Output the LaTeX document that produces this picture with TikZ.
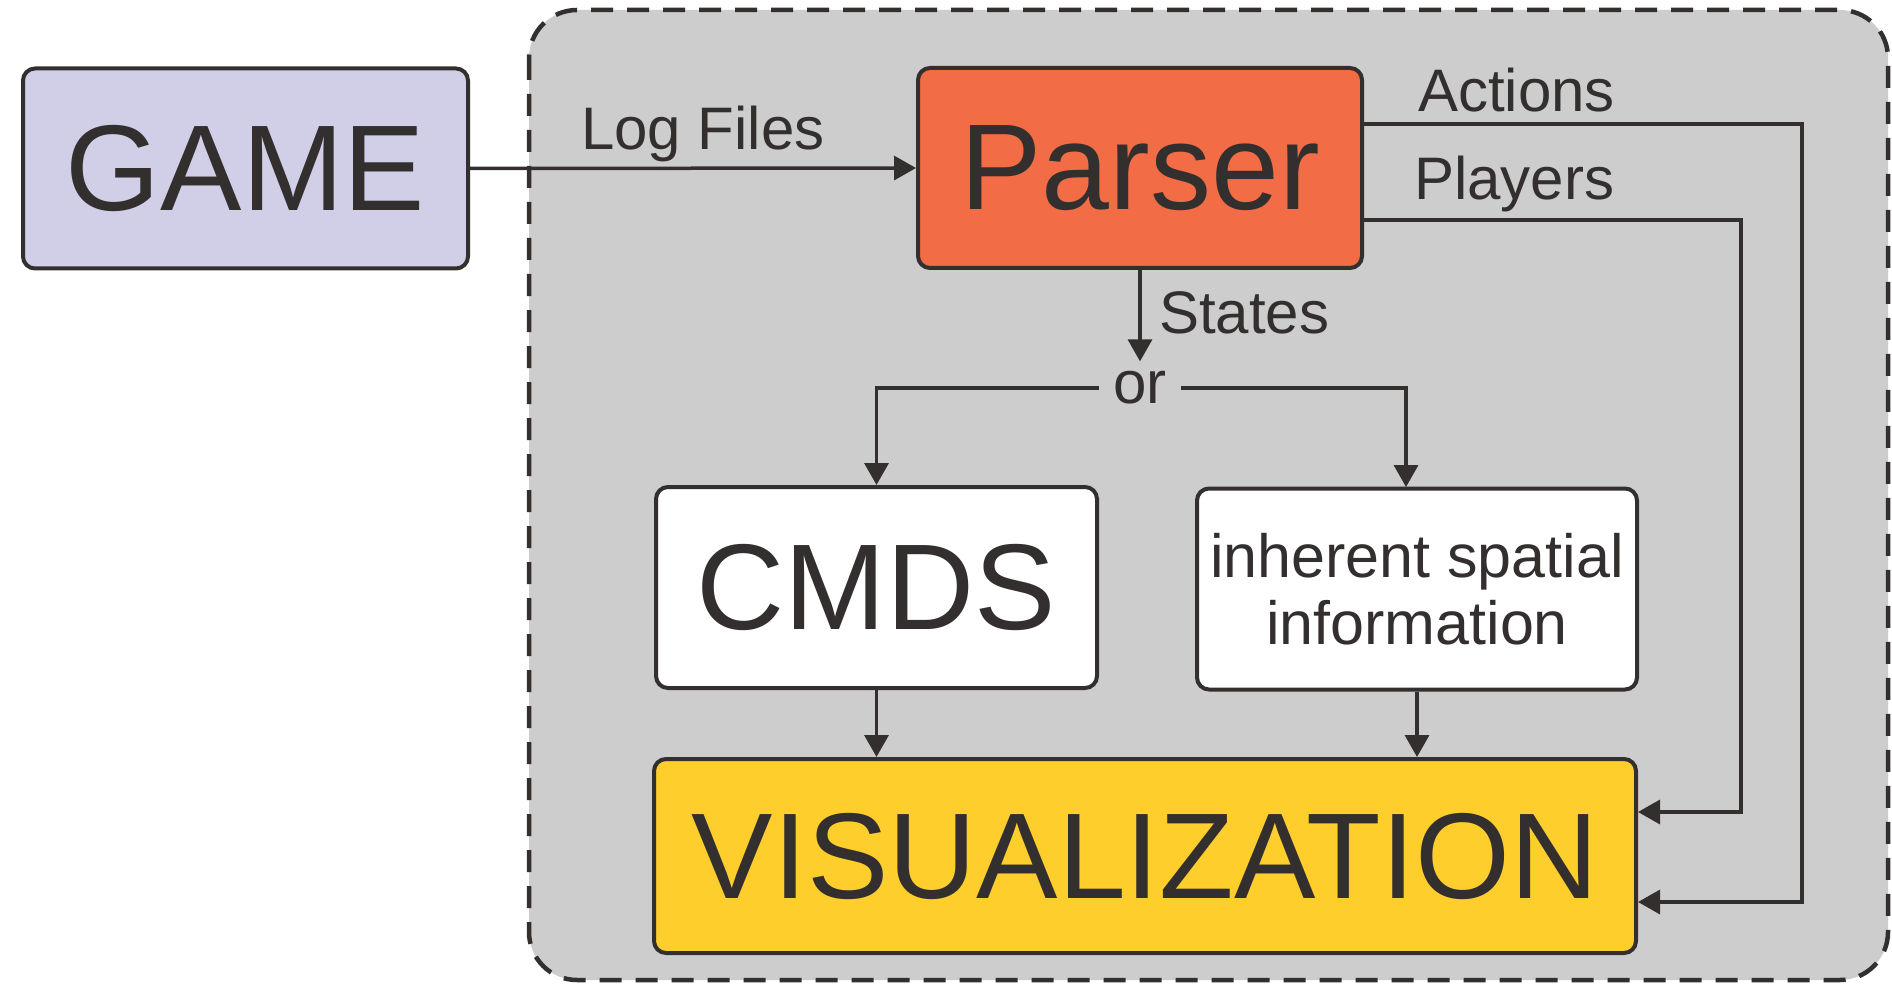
\documentclass[tikz,border=0pt]{standalone}
\usepackage{fontspec}
\setmainfont{Liberation Sans}
\usetikzlibrary{arrows.meta}
\definecolor{ink}{HTML}{332F2E}
\definecolor{panel}{HTML}{CDCDCD}
\definecolor{gamefill}{HTML}{D0CFE7}
\definecolor{parserfill}{HTML}{F26D46}
\definecolor{visfill}{HTML}{FECE2C}
\tikzset{
  box/.style={draw=ink, line width=4pt, rounded corners=12pt, inner sep=0pt, text=ink},
  bigtext/.style={font=\fontsize{122}{130}\selectfont},
  lbl/.style={font=\fontsize{60}{67}\selectfont, text=ink, inner sep=0pt},
  arr/.style={draw=ink, line width=3.5pt, -{Triangle[length=22pt,width=24pt]}},
  wire/.style={draw=ink, line width=3.5pt}
}
\begin{document}
\begin{tikzpicture}[x=1pt,y=-1pt]
\useasboundingbox (0,0) rectangle (1892,1000);
% container
\draw[draw=ink, fill=panel, line width=4.5pt, dash pattern=on 22pt off 14pt, rounded corners=48pt]
  (529,10) rectangle (1888,980);
% boxes
\node[box, bigtext, fill=gamefill, minimum width=445pt, minimum height=200pt] (game) at (245.5,168.5) {GAME};
\node[box, bigtext, fill=parserfill, minimum width=444pt, minimum height=200pt] (parser) at (1140,168) {Parser};
\node[box, bigtext, fill=white, minimum width=441pt, minimum height=201pt] (cmds) at (876.5,587.5) {CMDS};
\node[box, fill=white, minimum width=440pt, minimum height=201pt, align=center,
  font=\fontsize{61}{67}\selectfont] (inh) at (1417,589) {inherent spatial\\information};
\node[box, bigtext, fill=visfill, minimum width=982pt, minimum height=194pt] (vis) at (1145,856) {VISUALIZATION};
% or node
\node[lbl, inner xsep=14pt, inner ysep=10pt] (orn) at (1140,388) {or};
% labels
\node[lbl, anchor=base] (loglbl) at (703,150) {Log Files};
\node[lbl, anchor=base west] (actlbl) at (1418,112) {Actions};
\node[lbl, anchor=base west] (plylbl) at (1414,200) {Players};
\node[lbl, anchor=base west] (stlbl) at (1159,333) {States};
% coordinates
\coordinate (actc) at (1802,124);
\coordinate (actrow) at (1802,902);
\coordinate (plyc) at (1741,220);
\coordinate (plyrow) at (1741,812);
\coordinate (rbend) at (1406,487);
% connectors
\draw[arr] (game.east) -- (parser.west);
\draw[arr] (parser.south) -- (orn.north);
\draw[arr] (orn.west) -| (cmds.north);
\draw[arr] (orn.east) -| (rbend);
\draw[arr] (cmds.south) -- (cmds.south |- vis.north);
\draw[arr] (inh.south) -- (inh.south |- vis.north);
\draw[arr] (parser.east |- actc) -- (actc) |- (vis.east |- actrow);
\draw[arr] (parser.east |- plyc) -- (plyc) |- (vis.east |- plyrow);
\end{tikzpicture}
\end{document}
